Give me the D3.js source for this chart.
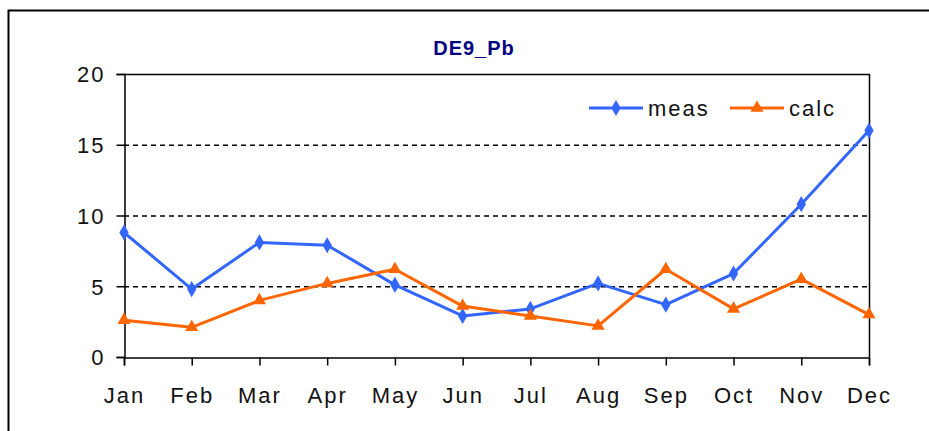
<!DOCTYPE html>
<html>
<head>
<meta charset="utf-8">
<script src="https://cdn.jsdelivr.net/npm/d3@7"></script>
<style>
  body { margin: 0; background: #fff; }
  svg { display: block; font-family: "Liberation Sans", Arial, sans-serif; }
</style>
</head>
<body>
<svg id="chart" width="929" height="431"></svg>
<script>
const months = ["Jan", "Feb", "Mar", "Apr", "May", "Jun", "Jul", "Aug", "Sep", "Oct", "Nov", "Dec"];
const meas = [8.8, 4.8, 8.1, 7.9, 5.1, 2.9, 3.4, 5.2, 3.7, 5.9, 10.8, 16.0];
const calc = [2.6, 2.1, 4.0, 5.2, 6.2, 3.6, 2.9, 2.2, 6.2, 3.4, 5.5, 3.0];
const yTicks = [0, 5, 10, 15, 20];

const series = [
  { name: "meas", values: meas, color: "#3366ff", symbol: d3.symbolDiamond },
  { name: "calc", values: calc, color: "#ff6600", symbol: d3.symbolTriangle },
];

const svg = d3.select("#chart");

// outer chart frame (runs off the right and bottom edges)
svg.append("rect")
  .attr("x", 8.5).attr("y", 10.5)
  .attr("width", 940).attr("height", 440)
  .attr("fill", "none").attr("stroke", "#000").attr("stroke-width", 2);

const plotLeft = 124, plotRight = 869, plotTop = 74, plotBottom = 357;

const x = d3.scalePoint().domain(months).range([plotLeft, plotRight]);
const y = d3.scaleLinear().domain([0, 20]).range([plotBottom, plotTop]);

// title
svg.append("text")
  .attr("x", 474).attr("y", 55)
  .attr("text-anchor", "middle")
  .attr("font-weight", "bold").attr("font-size", 20)
  .attr("letter-spacing", 1)
  .attr("fill", "#000080")
  .text("DE9_Pb");

// dashed gridlines
svg.append("g")
  .selectAll("line")
  .data(yTicks.filter(t => t > 0 && t < 20))
  .join("line")
    .attr("x1", plotLeft).attr("x2", plotRight)
    .attr("y1", d => y(d) + 0.5).attr("y2", d => y(d) + 0.5)
    .attr("stroke", "#000").attr("stroke-width", 1.5)
    .attr("stroke-dasharray", "5,4");

// plot frame top + right
svg.append("path")
  .attr("d", `M${plotLeft},${plotTop + 0.5}H${plotRight + 0.5}V${plotBottom}`)
  .attr("fill", "none").attr("stroke", "#000").attr("stroke-width", 1.5);

// y axis
const yAxis = svg.append("g")
  .attr("transform", `translate(${plotLeft + 0.5},0)`)
  .call(d3.axisLeft(y).tickValues(yTicks).tickSize(8).tickPadding(11));

// x axis
const xAxis = svg.append("g")
  .attr("transform", `translate(0,${plotBottom + 0.5})`)
  .call(d3.axisBottom(x).tickSize(8).tickPadding(22));

[yAxis, xAxis].forEach(g => {
  g.select(".domain").attr("stroke", "#000").attr("stroke-width", 1.5);
  g.selectAll(".tick line").attr("stroke", "#000").attr("stroke-width", 1.5);
  g.selectAll(".tick text")
    .attr("fill", "#111")
    .attr("font-size", 22)
    .attr("letter-spacing", 2)
    .attr("font-family", "Liberation Sans, Arial, sans-serif");
});
yAxis.selectAll(".tick text").attr("dy", "0.36em");

// lines + markers
const line = d3.line()
  .x((d, i) => x(months[i]))
  .y(d => y(d));

series.forEach(s => {
  svg.append("path")
    .datum(s.values)
    .attr("d", line)
    .attr("fill", "none")
    .attr("stroke", s.color)
    .attr("stroke-width", 3)
    .attr("stroke-linejoin", "round");

  svg.append("g")
    .selectAll("path")
    .data(s.values)
    .join("path")
      .attr("transform", (d, i) => `translate(${x(months[i])},${y(d)})`)
      .attr("d", d3.symbol().type(s.symbol).size(75))
      .attr("fill", s.color);
});

// legend
const legendItems = [
  { s: series[0], x0: 589, tx: 648 },
  { s: series[1], x0: 730, tx: 789 },
];
const legend = svg.append("g");
legendItems.forEach(item => {
  const ly = 108;
  legend.append("line")
    .attr("x1", item.x0).attr("x2", item.x0 + 54)
    .attr("y1", ly).attr("y2", ly)
    .attr("stroke", item.s.color).attr("stroke-width", 3);
  legend.append("path")
    .attr("transform", `translate(${item.x0 + 27},${ly})`)
    .attr("d", d3.symbol().type(item.s.symbol).size(75))
    .attr("fill", item.s.color);
  legend.append("text")
    .attr("x", item.tx).attr("y", ly + 8)
    .attr("font-size", 22)
    .attr("letter-spacing", 2)
    .attr("fill", "#111")
    .text(item.s.name);
});
</script>
</body>
</html>
